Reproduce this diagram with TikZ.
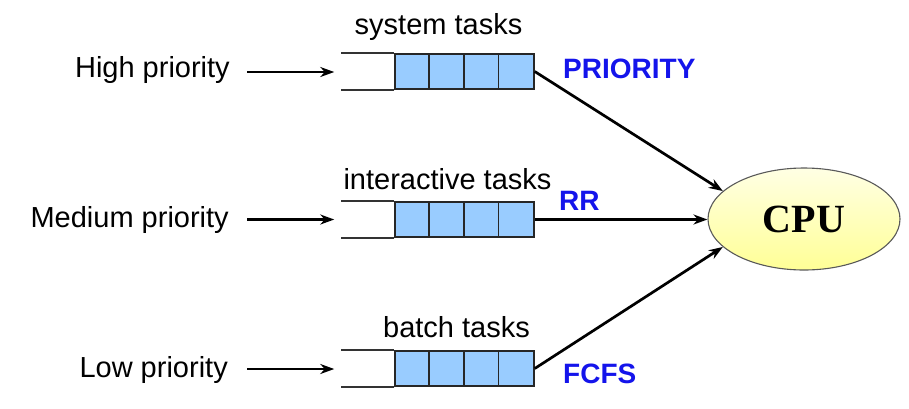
\documentclass[tikz,border=0pt]{standalone}
\usepackage{fontspec}
\setmainfont{Liberation Sans}
\newfontfamily\cpufont{Liberation Serif}
\usetikzlibrary{arrows.meta,shapes.geometric,calc}
\definecolor{cellblue}{RGB}{153,204,255}
\definecolor{labblue}{RGB}{20,20,235}
\definecolor{cpuyelA}{RGB}{255,255,228}
\definecolor{cpuyelB}{RGB}{255,255,150}
\begin{document}
\begin{tikzpicture}[x=1pt,y=-1pt,
  lab/.style={inner sep=0pt,font=\fontsize{29}{33}\selectfont},
  alg/.style={inner sep=0pt,text=labblue,font=\fontsize{28}{32}\selectfont\bfseries},
  qcells/.style={draw=black!85,line width=1.5pt,fill=cellblue,minimum width=139pt,minimum height=35pt,inner sep=0pt},
  qline/.style={draw=black!80,line width=1.9pt},
  qdiv/.style={draw=black!85,line width=1.5pt},
  arr/.style={draw=black,line width=2.7pt,-{Stealth[length=14pt,width=10pt]}},
  cpubox/.style={ellipse,draw=black!65,line width=1.1pt,top color=cpuyelA,bottom color=cpuyelB,minimum width=192pt,minimum height=102pt,inner sep=0pt,font=\fontsize{40}{44}\selectfont\cpufont\bfseries}
]
\useasboundingbox (0,0) rectangle (909,408);

% left labels
\node[lab,anchor=base east] (hp) at (230,77) {High priority};
\node[lab,anchor=base east] (mp) at (229,227) {Medium priority};
\node[lab,anchor=base east] (lp) at (228,377) {Low priority};

% queues
\foreach \n/\y in {q1/71.5,q2/219.5,q3/368.5}{
  \node[qcells] (\n) at (464.5,\y) {};
  \draw[qline] (\n.north west) -- ++(-53,0);
  \draw[qline] (\n.south west) -- ++(-53,0);
  \foreach \i in {1,2,3}{
    \draw[qdiv] ($(\n.north west)+(34.75*\i,0)$) -- ($(\n.south west)+(34.75*\i,0)$);
  }
  \coordinate (\n w) at ($(\n.west)+(-53,0)$);
}

% queue titles
\node[lab,anchor=base] (t1) at (438.5,34) {system tasks};
\node[lab,anchor=base] (t2) at (447.5,189) {interactive tasks};
\node[lab,anchor=base] (t3) at (456.5,337) {batch tasks};

% algorithms
\node[alg,anchor=base west] (a1) at (563,78) {PRIORITY};
\node[alg,anchor=base west] (a2) at (559,210) {RR};
\node[alg,anchor=base west] (a3) at (563,383) {FCFS};

% CPU
\node[cpubox] (cpu) at (804,219) {CPU};

% input arrows
\coordinate (s1) at (247,72);
\coordinate (s2) at (247,219.5);
\coordinate (s3) at (247,369);
\draw[arr,shorten >=7pt] (s1) -- (q1w |- s1);
\draw[arr,shorten >=7pt] (s2) -- (q2w |- s2);
\draw[arr,shorten >=7pt] (s3) -- (q3w |- s3);

% output arrows
\draw[arr] (q1.east) -- (cpu.161);
\draw[arr] (q2.east) -- (q2.east -| cpu.west);
\draw[arr] (q3.east) -- (cpu.199);
\end{tikzpicture}
\end{document}
